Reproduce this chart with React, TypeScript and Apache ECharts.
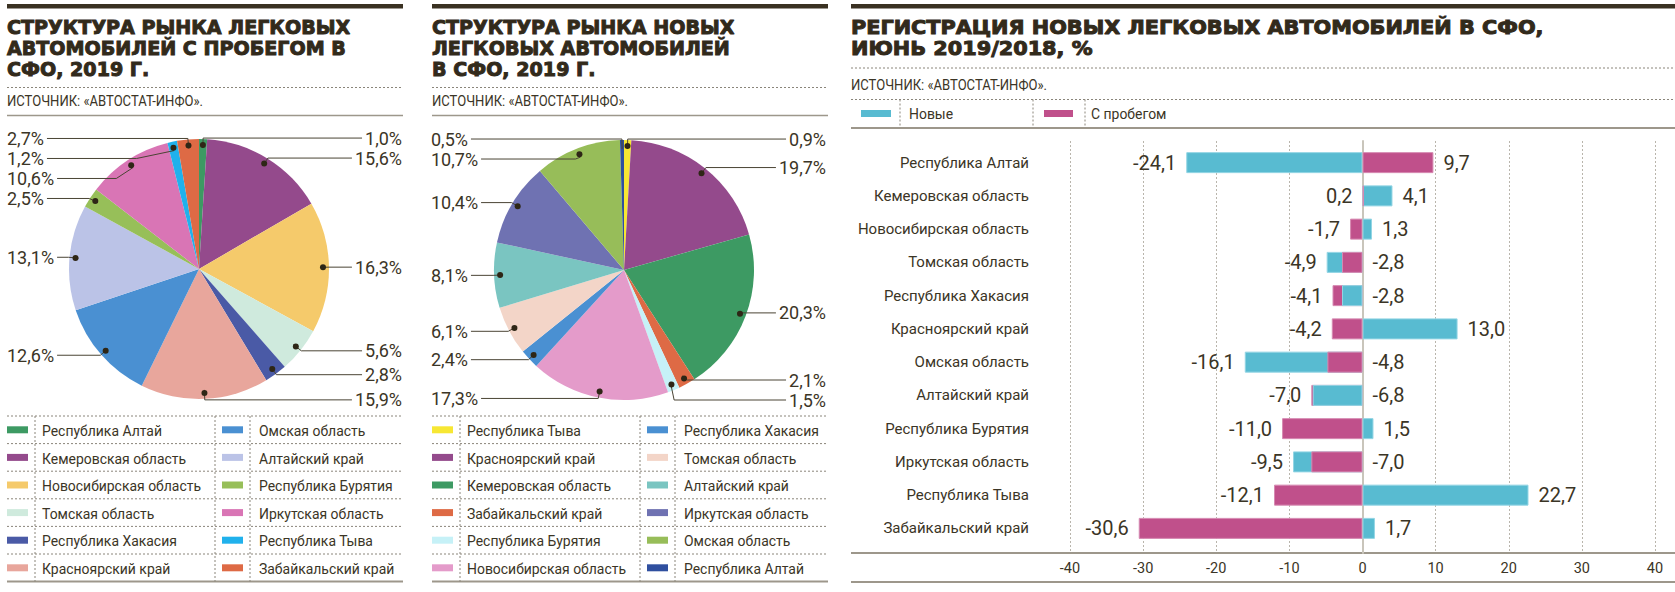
import React, { useEffect, useRef } from 'react';
import * as echarts from 'echarts';

// ---------- data ----------
const usedPieNames = [
  'Республика Алтай', 'Кемеровская область', 'Новосибирская область', 'Томская область',
  'Республика Хакасия', 'Красноярский край', 'Омская область', 'Алтайский край',
  'Республика Бурятия', 'Иркутская область', 'Республика Тыва', 'Забайкальский край',
];
const usedPieValues = [1.0, 15.6, 16.3, 5.6, 2.8, 15.9, 12.6, 13.1, 2.5, 10.6, 1.2, 2.7];
const usedPieColors = [
  '#3d9a63', '#944a8c', '#f5ca6b', '#cfeadd', '#4a5aa6', '#e8a69c',
  '#4a90d2', '#bbc3e7', '#97bf59', '#d975b5', '#20b1ec', '#de6a45',
];

const newPieNames = [
  'Республика Тыва', 'Красноярский край', 'Кемеровская область', 'Забайкальский край',
  'Республика Бурятия', 'Новосибирская область', 'Республика Хакасия', 'Томская область',
  'Алтайский край', 'Иркутская область', 'Омская область', 'Республика Алтай',
];
const newPieValues = [0.9, 19.7, 20.3, 2.1, 1.5, 17.3, 2.4, 6.1, 8.1, 10.4, 10.7, 0.5];
const newPieColors = [
  '#f7e733', '#944a8c', '#3d9a63', '#de6a45', '#c6f1f7', '#e49bca',
  '#4a90d2', '#f3d5c8', '#7ac5c1', '#6f72b2', '#97bd59', '#2f4f9f',
];

const barCategories = [
  'Республика Алтай', 'Кемеровская область', 'Новосибирская область', 'Томская область',
  'Республика Хакасия', 'Красноярский край', 'Омская область', 'Алтайский край',
  'Республика Бурятия', 'Иркутская область', 'Республика Тыва', 'Забайкальский край',
];
const barNewValues = [-24.1, 4.1, 1.3, -4.9, -2.8, 13.0, -16.1, -6.8, 1.5, -9.5, 22.7, 1.7];
const barUsedValues = [9.7, 0.2, -1.7, -2.8, -4.1, -4.2, -4.8, -7.0, -11.0, -7.0, -12.1, -30.6];
const barTicks = [-40, -30, -20, -10, 0, 10, 20, 30, 40];
const barLegendNames = ['Новые', 'С пробегом'];

const titleUsed = ['СТРУКТУРА РЫНКА ЛЕГКОВЫХ', 'АВТОМОБИЛЕЙ С ПРОБЕГОМ В', 'СФО, 2019 Г.'];
const titleNew = ['СТРУКТУРА РЫНКА НОВЫХ', 'ЛЕГКОВЫХ АВТОМОБИЛЕЙ', 'В СФО, 2019 Г.'];
const titleReg = ['РЕГИСТРАЦИЯ НОВЫХ ЛЕГКОВЫХ АВТОМОБИЛЕЙ В СФО,', 'ИЮНЬ 2019/2018, %'];
const sourceText = 'ИСТОЧНИК: «АВТОСТАТ-ИНФО».';

// ---------- styles ----------
const INK = '#3b3526';
const TITLE = '#322a1b';
const RULE = '#3a3122';
const GRAY = '#9d978b';
const DASH = '#8a857a';
const NEW_C = '#58bbd1';
const USED_C = '#c0508b';
const NEW_B = '#93d5e4';
const USED_B = '#d68ab2';
const FONT = 'Roboto, "Noto Sans", sans-serif';
const TFONT = '"DejaVu Sans", sans-serif';

const fmt = (v: number) => v.toFixed(1).replace('.', ',');

function buildGraphic() {
  const g: any[] = [];
  const hline = (x1: number, x2: number, y: number, stroke: string, lw: number, dash?: number[]) =>
    g.push({ type: 'line', silent: true, shape: { x1, y1: y, x2, y2: y }, style: { stroke, lineWidth: lw, lineDash: dash } });
  const vline = (x: number, y1: number, y2: number) =>
    g.push({ type: 'line', silent: true, shape: { x1: x, y1, x2: x, y2 }, style: { stroke: DASH, lineWidth: 1, lineDash: [2, 2] } });
  const text = (x: number, y: number, t: string, o: any) =>
    g.push({
      type: 'text', x, y, scaleX: o.scaleX ?? 1, silent: true,
      style: {
        text: t, fontSize: o.fontSize, fontFamily: o.fontFamily, fontWeight: o.fontWeight ?? 'normal',
        fill: o.fill ?? INK, align: 'left', verticalAlign: 'middle',
        stroke: o.stroke, lineWidth: o.lineWidth ?? 0,
      },
    });
  const rect = (x: number, y: number, w: number, h: number, fill: string) =>
    g.push({ type: 'rect', silent: true, shape: { x, y, width: w, height: h }, style: { fill } });

  const titleStyle = { fontSize: 20, fontFamily: TFONT, fontWeight: 'bold', fill: TITLE, stroke: TITLE, lineWidth: 1.0, scaleX: 0.955 };
  const srcStyle = { fontSize: 15, fontFamily: FONT, scaleX: 0.87 };
  const legStyle = { fontSize: 15.5, fontFamily: FONT, scaleX: 0.9 };

  const piePanel = (x0: number, x1: number, title: string[], names: string[], colors: string[]) => {
    rect(x0, 4, x1 - x0, 4.5, RULE);
    title.forEach((t, i) => text(x0, 27 + 21 * i, t, titleStyle));
    hline(x0, x1, 87.5, DASH, 1, [2, 2]);
    text(x0, 101, sourceText, srcStyle);
    hline(x0, x1, 115.5, GRAY, 1.5);
    const top = 416;
    const step = 27.6;
    for (let k = 0; k <= 6; k++) {
      const y = top + step * k;
      if (k < 6) hline(x0, x1, y, DASH, 1, [2, 2]);
      else hline(x0, x1, y, GRAY, 2);
    }
    [28, 208, 243].forEach((dx) => vline(x0 + dx, top, top + step * 6));
    names.forEach((n, i) => {
      const col = i < 6 ? 0 : 1;
      const row = i % 6;
      const yc = top + step * row + step / 2;
      rect(x0 + col * 215, yc - 3.5, 21, 7, colors[i]);
      text(x0 + 35 + col * 217, yc + 1, n, legStyle);
    });
  };
  piePanel(7, 403, titleUsed, usedPieNames, usedPieColors);
  piePanel(432, 828, titleNew, newPieNames, newPieColors);

  // right panel
  rect(851, 4, 824, 4.5, RULE);
  titleReg.forEach((t, i) => text(851, 27 + 21 * i, t, { ...titleStyle, scaleX: 1.04 }));
  hline(851, 1675, 68, DASH, 1, [2, 2]);
  text(851, 85, sourceText, srcStyle);
  hline(851, 1675, 99.5, DASH, 1, [2, 2]);
  rect(861, 110, 30, 7, NEW_C);
  rect(1044, 110, 29, 7, USED_C);
  [900, 1033, 1085].forEach((x) => vline(x, 99.5, 128));
  text(909, 113.5, barLegendNames[0], legStyle);
  text(1091, 113.5, barLegendNames[1], legStyle);
  hline(851, 1675, 128, GRAY, 2);
  hline(851, 1675, 553, GRAY, 2);
  hline(851, 1675, 582, GRAY, 2);
  return g;
}

function pieSeries(names: string[], values: number[], colors: string[], left: number, center: number[]) {
  const box = { left, top: 118, width: 395, height: 292, center, startAngle: 90, clockwise: true };
  const visible = {
    type: 'pie', ...box, radius: 130, z: 2, silent: true,
    label: { show: false }, labelLine: { show: false },
    emphasis: { disabled: true },
    data: names.map((n, i) => ({ name: n, value: values[i], itemStyle: { color: colors[i] } })),
  };
  const labels = {
    type: 'pie', ...box, radius: 121, z: 3, silent: true, avoidLabelOverlap: true,
    emphasis: { disabled: true },
    label: {
      show: true, position: 'outside', alignTo: 'edge', edgeDistance: 0, distanceToLabelLine: 3,
      formatter: (p: any) => fmt(p.value) + '%', fontSize: 18, fontFamily: FONT, color: INK,
    },
    labelLine: { show: true, length: 10, length2: 8, minTurnAngle: 30, lineStyle: { color: '#4a4434', width: 1 } },
    data: names.map((n, i) => ({ name: n, value: values[i], itemStyle: { color: 'rgba(0,0,0,0)' } })),
  };
  const dots = {
    type: 'pie', ...box, radius: [118, 124], z: 4, silent: true,
    emphasis: { disabled: true },
    label: {
      show: true, position: 'inside', formatter: '{d| }',
      rich: { d: { width: 6, height: 6, borderRadius: 3, backgroundColor: '#2e2616', color: 'rgba(0,0,0,0)', fontSize: 6 } },
    },
    labelLine: { show: false },
    data: names.map((n, i) => ({ name: n, value: values[i], itemStyle: { color: 'rgba(0,0,0,0)' } })),
  };
  return [visible, labels, dots];
}

function barSeries() {
  const back: any[] = [];
  const front: any[] = [];
  barCategories.forEach((_, i) => {
    const n = barNewValues[i];
    const u = barUsedValues[i];
    const newBack = Math.abs(n) >= Math.abs(u);
    const bv = newBack ? n : u;
    const fv = newBack ? u : n;
    const style = (isNew: boolean) => ({ color: isNew ? NEW_C : USED_C, borderColor: isNew ? NEW_B : USED_B, borderWidth: 1 });
    back.push({ value: bv, itemStyle: style(newBack), label: { position: bv <= fv ? 'left' : 'right' } });
    front.push({ value: fv, itemStyle: style(!newBack), label: { position: fv < bv ? 'left' : 'right' } });
  });
  const common = {
    type: 'bar', xAxisIndex: 0, yAxisIndex: 0, barWidth: 21, barGap: '-100%', silent: true,
    label: { show: true, distance: 10, fontSize: 20, fontFamily: FONT, color: INK, formatter: (p: any) => fmt(p.value) },
  };
  return [
    { ...common, name: 'back', z: 2, data: back },
    { ...common, name: 'front', z: 3, data: front },
  ];
}

export default function App() {
  const ref = useRef<HTMLDivElement>(null);
  useEffect(() => {
    const chart = echarts.init(ref.current!, null, { renderer: 'svg' });
    const tickMin = barTicks[0];
    const tickMax = barTicks[barTicks.length - 1];
    const tickStep = barTicks[1] - barTicks[0];
    chart.setOption({
      animation: false,
      backgroundColor: '#ffffff',
      textStyle: { fontFamily: FONT },
      grid: [
        { left: 1070, right: 20, top: 146, bottom: 47 },
        { left: 1070, right: 20, top: 141, bottom: 39 },
      ],
      xAxis: [
        { gridIndex: 0, type: 'value', min: tickMin, max: tickMax, interval: tickStep, show: false },
        {
          gridIndex: 1, type: 'value', min: tickMin, max: tickMax, interval: tickStep,
          axisLine: { show: false }, axisTick: { show: false },
          splitLine: { show: true, lineStyle: { color: '#b9b5ac', type: [2, 2], width: 1 } },
          axisLabel: { fontSize: 14.5, color: INK, fontFamily: FONT, margin: 8 },
        },
      ],
      yAxis: [
        {
          gridIndex: 0, type: 'category', inverse: true, data: barCategories,
          axisLine: { show: false }, axisTick: { show: false },
          axisLabel: { fontSize: 15, color: INK, fontFamily: FONT, margin: 41 },
        },
        {
          gridIndex: 1, type: 'value', min: 0, max: 1,
          axisLine: { show: true, onZero: true, lineStyle: { color: '#c9c5bb', width: 2 } },
          axisLabel: { show: false }, axisTick: { show: false }, splitLine: { show: false },
        },
      ],
      graphic: buildGraphic(),
      series: [
        ...pieSeries(usedPieNames, usedPieValues, usedPieColors, 7, [192, 151]),
        ...pieSeries(newPieNames, newPieValues, newPieColors, 431, [193, 152]),
        ...barSeries(),
      ],
    });
    return () => chart.dispose();
  }, []);
  return (
    <div
      ref={ref}
      style={{ position: 'fixed', left: 0, top: 0, width: 1675, height: 592, background: '#fff' }}
    />
  );
}
